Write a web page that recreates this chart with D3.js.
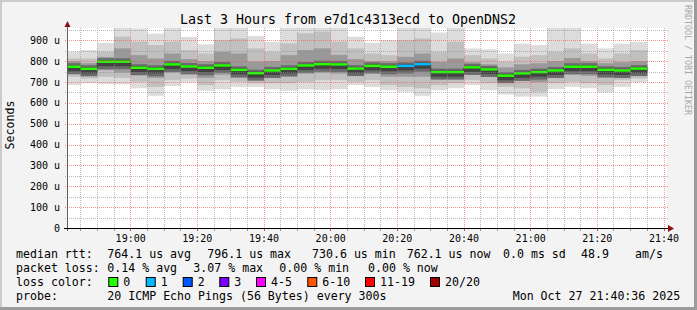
<!DOCTYPE html>
<html>
<head>
<meta charset="utf-8">
<script src="https://cdn.jsdelivr.net/npm/d3@7"></script>
<style>
  body { margin: 0; background: #fff; }
  svg text { font-family: "DejaVu Sans Mono", monospace; }
</style>
</head>
<body>
<div id="chart"></div>
<script>
// 5 minute steps, start time of each step
var times = ["18:40","18:45","18:50","18:55","19:00","19:05","19:10","19:15","19:20","19:25",
             "19:30","19:35","19:40","19:45","19:50","19:55","20:00","20:05","20:10","20:15",
             "20:20","20:25","20:30","20:35","20:40","20:45","20:50","20:55","21:00","21:05",
             "21:10","21:15","21:20","21:25","21:30"];

// median rtt in microseconds
var median = [771,761,795,795,766,761,782,772,766,777,756,740,753,761,777,783,782,762,775,771,
              775,783,745,745,768,758,728,739,745,753,771,771,756,753,762];

// smoke: outer, middle and inner spread of the 20 pings
var pingMax   = [845,853,888,985,957,932,985,916,881,985,985,920,892,985,980,985,985,917,888,901,
                 985,985,937,985,861,857,837,884,877,985,985,884,861,884,892];
var pingUpper = [813,813,845,917,894,877,894,853,837,901,909,861,845,885,934,942,894,861,837,829,
                 901,909,845,893,829,813,797,821,829,845,861,837,813,837,853];
var pingHigh  = [800,790,820,861,829,813,837,810,800,845,837,798,800,829,853,861,830,810,800,800,
                 821,837,797,813,795,785,770,785,790,800,815,800,790,795,800];
var pingLow   = [740,735,757,745,735,720,745,735,720,735,720,715,720,725,740,745,740,730,740,725,
                 725,725,715,715,735,725,705,705,700,720,735,730,720,725,735];
var pingLower = [725,717,725,720,701,677,709,717,685,709,701,694,694,694,701,709,709,701,709,685,
                 677,670,685,694,709,694,677,670,653,694,701,694,685,709,717];
var pingMin   = [686,694,690,689,670,634,681,698,658,665,677,677,665,658,665,662,665,686,677,662,
                 653,634,662,670,686,662,640,630,630,666,677,670,651,677,700];

// lost pings per step
var lossPings = [0,0,0,0,0,0,0,0,0,0,0,0,0,0,0,0,0,0,0,0,
                 1,1,0,0,0,0,0,0,0,0,0,0,0,0,0];

var lossLabels = ["0","1","2","3","4-5","6-10","11-19","20/20"];
var lossColors = ["#26ff00","#00b8ff","#0059ff","#7e00ff","#ff00ff","#ff5500","#ff0000","#a10000"];

var rttStats  = ["764.1 us avg","796.1 us max","730.6 us min","762.1 us now","0.0 ms sd","48.9","am/s"];
var lossStats = ["0.14 % avg","3.07 % max","0.00 % min","0.00 % now"];

var yTicks = [0,100,200,300,400,500,600,700,800,900];

function at(hm) {
  var p = hm.split(":");
  return new Date(2025, 9, 27, +p[0], +p[1]);
}
function lossBucket(n) {
  if (n <= 3) return n;
  if (n <= 5) return 4;
  if (n <= 10) return 5;
  if (n <= 19) return 6;
  return 7;
}

var W = 697, H = 310;
// plot box
var pL = 67, pR = 667, pT = 28, pB = 228;

var x = d3.scaleTime()
  .domain([new Date(2025, 9, 27, 18, 40, 54), new Date(2025, 9, 27, 21, 40, 54)])
  .range([pL, pR]);
var y = d3.scaleLinear().domain([0, 959]).range([pB, pT]);

var svg = d3.select("#chart").append("svg")
  .attr("width", W).attr("height", H);

// canvas and frame
svg.append("rect").attr("width", W).attr("height", H).attr("fill", "#f3f3f3");
svg.append("rect").attr("x", 0).attr("y", 0).attr("width", W).attr("height", 2).attr("fill", "#cbcbcb");
svg.append("rect").attr("x", 0).attr("y", 0).attr("width", 2).attr("height", H).attr("fill", "#cbcbcb");
svg.append("rect").attr("x", 0).attr("y", H - 3).attr("width", W).attr("height", 3).attr("fill", "#9b9b9b");
svg.append("rect").attr("x", W - 3).attr("y", 0).attr("width", 3).attr("height", H).attr("fill", "#9b9b9b");

svg.append("rect").attr("x", pL).attr("y", pT)
  .attr("width", pR - pL).attr("height", pB - pT).attr("fill", "#fff");

svg.append("clipPath").attr("id", "plot")
  .append("rect").attr("x", pL).attr("y", pT)
  .attr("width", pR - pL).attr("height", pB - pT);

var steps = times.map(function (t, i) {
  var t0 = at(t);
  return { i: i, t0: t0, t1: d3.timeMinute.offset(t0, 5) };
});

var plot = svg.append("g").attr("clip-path", "url(#plot)");

// smoke bands, light outside to dark inside
var bands = [
  [pingMin, pingMax, "#dcdcdc"],
  [pingLower, pingUpper, "#c0c0c0"],
  [pingLow, pingHigh, "#999999"]
];
bands.forEach(function (b) {
  plot.append("g").selectAll("rect")
    .data(steps).enter().append("rect")
    .attr("x", function (d) { return x(d.t0); })
    .attr("width", function (d) { return x(d.t1) - x(d.t0); })
    .attr("y", function (d) { return y(b[1][d.i]); })
    .attr("height", function (d) { return y(b[0][d.i]) - y(b[1][d.i]); })
    .attr("fill", b[2]);
});
// dark core round the median
plot.append("g").selectAll("rect")
  .data(steps).enter().append("rect")
  .attr("x", function (d) { return x(d.t0); })
  .attr("width", function (d) { return x(d.t1) - x(d.t0); })
  .attr("y", function (d) { return y(median[d.i]) - 4; })
  .attr("height", 11)
  .attr("fill", "#6a6a6a");
plot.append("g").selectAll("rect")
  .data(steps).enter().append("rect")
  .attr("x", function (d) { return x(d.t0); })
  .attr("width", function (d) { return x(d.t1) - x(d.t0); })
  .attr("y", function (d) { return y(median[d.i]) - 2; })
  .attr("height", 6)
  .attr("fill", "#424242");

// grid, dotted: grey minor every 5 min / 50 u, red major every 20 min / 100 u
var minorCol = "rgba(140,140,140,0.6)", majorCol = "rgba(240,80,80,0.6)";
var grid = svg.append("g");
var minorX = d3.timeMinute.every(5).range(x.domain()[0], x.domain()[1])
  .filter(function (t) { return t.getMinutes() % 20 !== 0; });
var majorX = d3.timeMinute.every(20).range(x.domain()[0], x.domain()[1]);

function vline(t, col, tick) {
  var xx = Math.floor(x(t)) + 0.5;
  grid.append("line")
    .attr("x1", xx).attr("x2", xx).attr("y1", pT).attr("y2", pB)
    .attr("stroke", col).attr("stroke-dasharray", "1,1");
  grid.append("line")
    .attr("x1", xx).attr("x2", xx).attr("y1", pB).attr("y2", pB + 3)
    .attr("stroke", tick);
}
minorX.forEach(function (t) { vline(t, minorCol, "rgba(110,110,110,0.7)"); });
majorX.forEach(function (t) { vline(t, majorCol, "rgba(200,60,60,0.9)"); });

d3.range(50, 959, 50).forEach(function (v) {
  var major = v % 100 === 0;
  var yy = Math.round(y(v)) + 0.5;
  grid.append("line")
    .attr("x1", pL - 2).attr("x2", pR + 2)
    .attr("y1", yy).attr("y2", yy)
    .attr("stroke", major ? majorCol : minorCol)
    .attr("stroke-dasharray", "1,1");
});

// median line, dark step then loss-coloured segments
var stepPts = steps.map(function (d) { return [x(d.t0), y(median[d.i])]; });
stepPts.push([x(steps[steps.length - 1].t1), y(median[median.length - 1])]);
plot.append("path")
  .attr("d", d3.line().curve(d3.curveStepAfter)(stepPts))
  .attr("fill", "none").attr("stroke", "#202020").attr("stroke-width", 1);
plot.append("g").selectAll("line")
  .data(steps).enter().append("line")
  .attr("x1", function (d) { return x(d.t0); })
  .attr("x2", function (d) { return x(d.t1); })
  .attr("y1", function (d) { return y(median[d.i]) - 0.5; })
  .attr("y2", function (d) { return y(median[d.i]) - 0.5; })
  .attr("stroke", function (d) { return lossColors[lossBucket(lossPings[d.i])]; })
  .attr("stroke-width", 2.5);

// axes
svg.append("line").attr("x1", pL + 0.5).attr("x2", pL + 0.5)
  .attr("y1", pB + 3).attr("y2", 22).attr("stroke", "#606060");
svg.append("line").attr("x1", pL - 3).attr("x2", 670)
  .attr("y1", pB + 0.5).attr("y2", pB + 0.5).attr("stroke", "#000");
svg.append("path").attr("d", "M64.5,27 L67.5,21 L70.5,27 Z").attr("fill", "#8b1010");
svg.append("path").attr("d", "M668,225 L674,228.5 L668,232 Z").attr("fill", "#8b1010");

// tick labels
svg.append("g").selectAll("text")
  .data(yTicks).enter().append("text")
  .attr("x", 60).attr("y", function (d) { return y(d) + 3.6; })
  .attr("text-anchor", "end").attr("font-size", "10px").attr("fill", "#000")
  .text(function (d) { return d === 0 ? "0" : d + " u"; });

var fmt = d3.timeFormat("%H:%M");
svg.append("g").selectAll("text")
  .data(majorX)
  .enter().append("text")
  .attr("x", function (d) { return x(d); }).attr("y", 241.5)
  .attr("text-anchor", "middle").attr("font-size", "10px").attr("fill", "#000")
  .text(fmt);

// title and side texts
svg.append("text").attr("x", 348).attr("y", 24)
  .attr("text-anchor", "middle").attr("font-size", "13.3px").attr("fill", "#000")
  .text("Last 3 Hours from e7d1c4313ecd to OpenDNS2");
svg.append("text")
  .attr("transform", "translate(14,125) rotate(-90)")
  .attr("text-anchor", "middle").attr("font-size", "11.6px").attr("fill", "#000")
  .text("Seconds");
svg.append("text")
  .attr("transform", "translate(684.5,5) rotate(90)")
  .attr("font-size", "8.3px").attr("fill", "#a8a8a8")
  .text("RRDTOOL / TOBI OETIKER");

// legend
var lg = svg.append("g").attr("font-size", "11.6px").attr("fill", "#000");
function put(tx, xx, yy) {
  lg.append("text").attr("x", xx).attr("y", yy).attr("xml:space", "preserve").text(tx);
}
put("median rtt:", 16, 257.5);
[107.3, 207.3, 312, 406.7, 503, 581, 635].forEach(function (xx, i) { put(rttStats[i], xx, 257.5); });
put("packet loss:", 16, 271.5);
[107.3, 193.3, 279.3, 368].forEach(function (xx, i) { put(lossStats[i], xx, 271.5); });
put("loss color:", 16, 285.5);
[108.3, 145.7, 182.7, 219.3, 256, 307.3, 365, 430].forEach(function (xx, i) {
  lg.append("rect").attr("x", xx + 0.5).attr("y", 277.5).attr("width", 9).attr("height", 9)
    .attr("fill", lossColors[i]).attr("stroke", "#000").attr("stroke-width", 1);
  put(lossLabels[i], xx + 15, 285.5);
});
put("probe:", 16, 299.5);
put("20 ICMP Echo Pings (56 Bytes) every 300s", 107.3, 299.5);
put("Mon Oct 27 21:40:36 2025", 512.7, 299.5);
</script>
</body>
</html>
